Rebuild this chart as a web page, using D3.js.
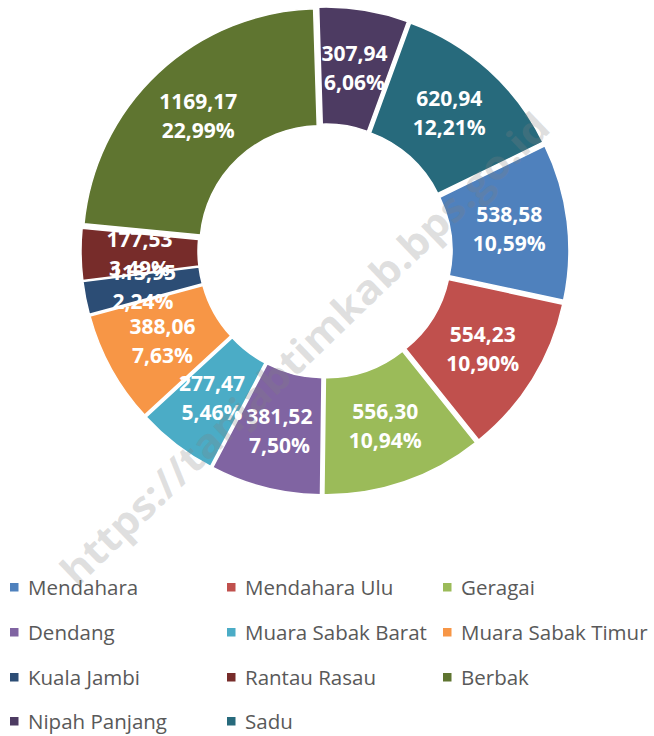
<!DOCTYPE html>
<html>
<head>
<meta charset="utf-8">
<script src="https://cdn.jsdelivr.net/npm/d3@7"></script>
<style>
html,body{margin:0;padding:0;background:#fff;}
svg{display:block;}
</style>
</head>
<body>
<svg id="chart" width="654" height="736"></svg>
<script>
const categories = ["Mendahara","Mendahara Ulu","Geragai","Dendang","Muara Sabak Barat","Muara Sabak Timur","Kuala Jambi","Rantau Rasau","Berbak","Nipah Panjang","Sadu"];
const values = [538.58,554.23,556.30,381.52,277.47,388.06,113.95,177.53,1169.17,307.94,620.94];
const valueLabels = ["538,58","554,23","556,30","381,52","277,47","388,06","113,95","177,53","1169,17","307,94","620,94"];
const percentLabels = ["10,59%","10,90%","10,94%","7,50%","5,46%","7,63%","2,24%","3,49%","22,99%","6,06%","12,21%"];
const colors = ["#4F81BD","#C0504D","#9BBB59","#8064A2","#4BACC6","#F79646","#2C4D75","#772C2A","#5F7530","#4D3B62","#276A7C"];
const watermark = "https://tanjabtimkab.bps.go.id";

const svg = d3.select("#chart");
const cx = 325, cy = 251, rIn = 121, rOut = 238, explode = 6;
const start = 64 * Math.PI / 180;

const pie = d3.pie().sort(null).value(d => d.v)
  .startAngle(start).endAngle(start + 2 * Math.PI);
const data = categories.map((c, i) => ({c, v: values[i], i}));
const arcs = pie(data);
const arc = d3.arc().innerRadius(rIn).outerRadius(rOut);

const g = svg.append("g").attr("transform", `translate(${cx},${cy})`);

function off(d) {
  const a = (d.startAngle + d.endAngle) / 2;
  return [explode * Math.sin(a), -explode * Math.cos(a)];
}

g.selectAll("path.slice").data(arcs).enter().append("path")
  .attr("class", "slice")
  .attr("d", arc)
  .attr("transform", d => { const o = off(d); return `translate(${o[0]},${o[1]})`; })
  .attr("fill", d => colors[d.data.i])
  .attr("stroke", "#fff").attr("stroke-width", 1.5);

const lab = g.selectAll("g.lab").data(arcs).enter().append("g")
  .attr("class", "lab")
  .attr("transform", d => { const c = arc.centroid(d), o = off(d); return `translate(${c[0]+o[0]},${c[1]+o[1]})`; });
lab.append("text").attr("text-anchor", "middle").attr("y", -7)
  .attr("font-family", "'Open Sans', sans-serif").attr("font-weight", "bold")
  .attr("font-size", 21).attr("fill", "#fff")
  .text(d => valueLabels[d.data.i]);
lab.append("text").attr("text-anchor", "middle").attr("y", 22)
  .attr("font-family", "'Open Sans', sans-serif").attr("font-weight", "bold")
  .attr("font-size", 21).attr("fill", "#fff")
  .text(d => percentLabels[d.data.i]);

// legend
const colX = [10, 227, 443];
const rowY = [587, 632, 677, 721];
const leg = svg.append("g");
categories.forEach((c, i) => {
  const x = colX[i % 3], y = rowY[Math.floor(i / 3)];
  leg.append("rect").attr("x", x).attr("y", y - 4).attr("width", 8.5).attr("height", 8.5).attr("fill", colors[i]);
  leg.append("text").attr("x", x + 18).attr("y", y + 7.5)
    .attr("font-family", "'Open Sans', sans-serif").attr("font-size", 20.5)
    .attr("fill", "#595959").text(c);
});

// watermark
svg.append("text")
  .attr("transform", "translate(305,349) rotate(-43.9)")
  .attr("text-anchor", "middle").attr("dy", "0.35em")
  .attr("font-family", "'Open Sans', sans-serif").attr("font-weight", "bold")
  .attr("font-size", 40).attr("fill", "#808080").attr("fill-opacity", 0.25)
  .attr("textLength", 660).attr("lengthAdjust", "spacingAndGlyphs")
  .text(watermark);
</script>
</body>
</html>
